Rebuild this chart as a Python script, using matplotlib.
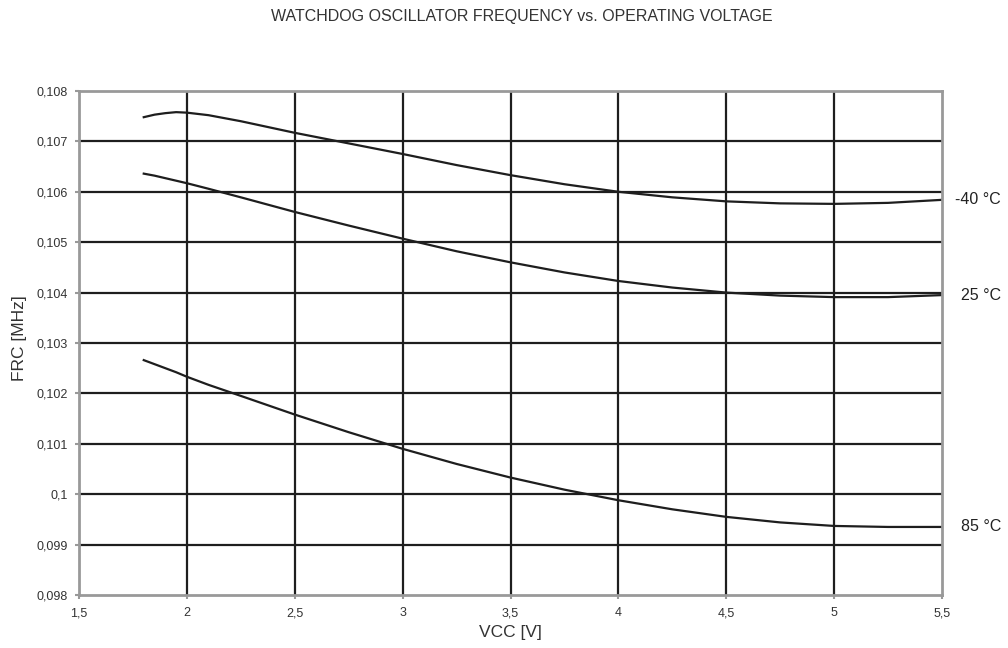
import matplotlib
matplotlib.use("Agg")
import matplotlib.pyplot as plt
from matplotlib.ticker import FuncFormatter

vcc = [1.8, 1.85, 1.9, 1.95, 2.0, 2.1, 2.25, 2.5, 2.75, 3.0, 3.25, 3.5, 3.75, 4.0, 4.25, 4.5, 4.75, 5.0, 5.25, 5.5]
frc_m40 = [0.10748, 0.10753, 0.10756, 0.10758, 0.10757, 0.10752, 0.10740, 0.10717, 0.10696, 0.10675,
           0.10653, 0.10633, 0.10615, 0.10600, 0.10589, 0.10581, 0.10577, 0.10576, 0.10578, 0.10584]
frc_25 = [0.10636, 0.10632, 0.10627, 0.10622, 0.10617, 0.10606, 0.10589, 0.10560, 0.10533, 0.10507,
          0.10482, 0.10460, 0.10440, 0.10423, 0.10410, 0.10400, 0.10394, 0.10391, 0.10391, 0.10395]
frc_85 = [0.10266, 0.10258, 0.10250, 0.10242, 0.10233, 0.10217, 0.10195, 0.10158, 0.10123, 0.10090,
          0.10060, 0.10033, 0.10009, 0.09988, 0.09970, 0.09955, 0.09944, 0.09937, 0.09935, 0.09935]
labels = ["-40 °C", "25 °C", "85 °C"]
series = [frc_m40, frc_25, frc_85]
xticks = [1.5, 2, 2.5, 3, 3.5, 4, 4.5, 5, 5.5]
yticks = [0.098, 0.099, 0.100, 0.101, 0.102, 0.103, 0.104, 0.105, 0.106, 0.107, 0.108]

plt.rcParams['font.family'] = ['Liberation Sans', 'DejaVu Sans']
fig = plt.figure(figsize=(10.08, 6.48), dpi=100)
ax = fig.add_axes([0.0784, 0.0818, 0.9345 - 0.0784, 0.8596 - 0.0818])
ax.set_xlim(1.5, 5.5)
ax.set_ylim(0.098, 0.108)

for v in xticks[1:-1]:
    ax.axvline(v, color='#1e1e1e', lw=1.6, zorder=1)
for v in yticks[1:-1]:
    ax.axhline(v, color='#1e1e1e', lw=1.6, zorder=1)

for s, lab in zip(series, labels):
    ax.plot(vcc, s, color='#1e1e1e', lw=1.6, zorder=2, solid_joinstyle='round')
    ax.annotate(lab, xy=(vcc[-1], s[-1]), xytext=(42.5, 0), textcoords='offset points',
                va='center', ha='right', fontsize=11.5, color='#222222', annotation_clip=False)

ax.set_xticks(xticks)
ax.set_yticks(yticks)
ax.xaxis.set_major_formatter(FuncFormatter(lambda v, p: ('%g' % v).replace('.', ',')))
ax.yaxis.set_major_formatter(FuncFormatter(lambda v, p: ('%g' % round(v, 3)).replace('.', ',')))
ax.tick_params(axis='both', colors='#999999', labelcolor='#333333', labelsize=9, length=3, width=1.5)
ax.tick_params(axis='x', pad=6)
ax.tick_params(axis='y', pad=5)
for sp in ax.spines.values():
    sp.set_color('#999999')
    sp.set_linewidth(2)

ax.set_xlabel('VCC [V]', fontsize=12.5, color='#333333')
ax.set_ylabel('FRC [MHz]', fontsize=12.5, color='#333333')
ax.xaxis.set_label_coords(0.5, (595 - 633) / 504)
ax.yaxis.set_label_coords((19 - 79) / 863, 0.5 + (343 - 338) / 504)
ax.xaxis.label.set_va('center')
ax.yaxis.label.set_va('center')
fig.text(522 / 1008, 1 - 17 / 648, 'WATCHDOG OSCILLATOR FREQUENCY vs. OPERATING VOLTAGE',
         ha='center', va='center', fontsize=11.5, color='#333333')

fig.savefig('out.png', dpi=100)
